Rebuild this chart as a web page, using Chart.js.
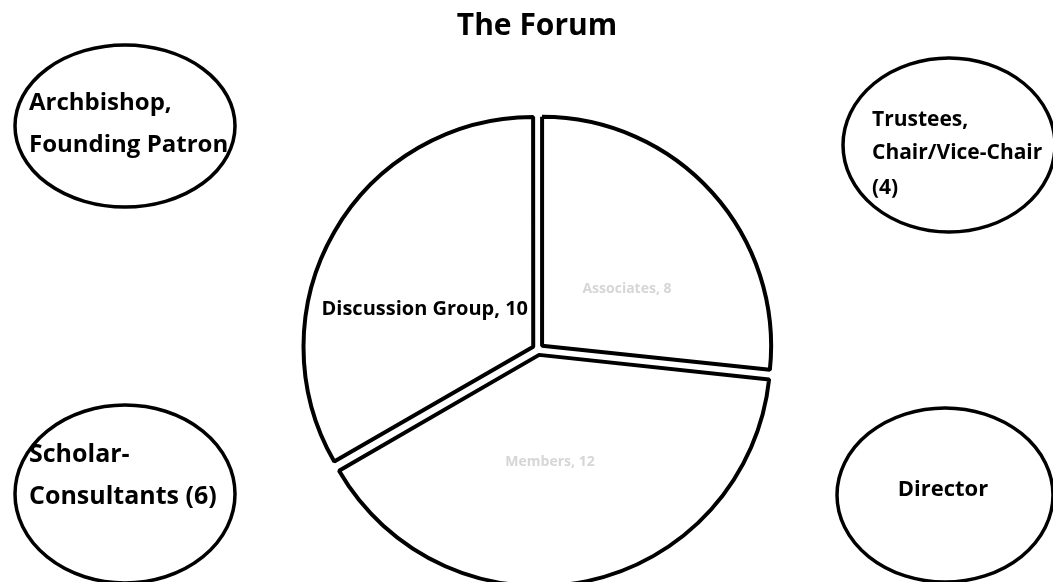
<!DOCTYPE html>
<html>
<head>
<meta charset="utf-8">
<script src="https://cdn.jsdelivr.net/npm/chart.js@4"></script>
<style>
  html, body { margin: 0; padding: 0; background: #fff; }
  #wrap { width: 1053px; height: 582px; overflow: hidden; }
</style>
</head>
<body>
<div id="wrap"><canvas id="grafik" width="1053" height="600"></canvas></div>
<script>
const kategoriler = ["Associates", "Members", "Discussion Group"];
const degerler = [8, 12, 10];
const baslik = "The Forum";

// side bubbles (text only, drawn around the pie)
const baloncuklar = [
  ["Archbishop,", "Founding Patron"],
  ["Trustees,", "Chair/Vice-Chair", "(4)"],
  ["Scholar-", "Consultants (6)"],
  ["Director"]
];

const FONT = "'Open Sans', sans-serif";

const dekorPlugin = {
  id: "dekor",
  afterDraw(chart) {
    const ctx = chart.ctx;
    ctx.save();

    // title
    ctx.fillStyle = "#000";
    ctx.font = "bold 30px " + FONT;
    ctx.textAlign = "center";
    ctx.textBaseline = "alphabetic";
    ctx.fillText(baslik, 537, 35);

    // ellipses
    const elipsler = [
      { cx: 125, cy: 126, rx: 110, ry: 81 },
      { cx: 949, cy: 145, rx: 106, ry: 87 },
      { cx: 125, cy: 494, rx: 110, ry: 89 },
      { cx: 945, cy: 495, rx: 108, ry: 87 }
    ];
    ctx.strokeStyle = "#000";
    ctx.lineWidth = 3.5;
    elipsler.forEach((e) => {
      ctx.beginPath();
      ctx.ellipse(e.cx, e.cy, e.rx, e.ry, 0, 0, Math.PI * 2);
      ctx.stroke();
    });

    // bubble texts
    const yerler = [
      { x: 29, y: [103, 145], hiza: "left", boyut: 24 },
      { x: 872, y: [120, 153, 188], hiza: "left", boyut: 21 },
      { x: 29, y: [455, 497], hiza: "left", boyut: 25 },
      { x: 943, y: [490], hiza: "center", boyut: 22 }
    ];
    ctx.textBaseline = "middle";
    baloncuklar.forEach((satirlar, i) => {
      const yer = yerler[i];
      ctx.font = "bold " + yer.boyut + "px " + FONT;
      ctx.textAlign = yer.hiza;
      satirlar.forEach((s, j) => {
        ctx.fillText(s, yer.x, yer.y[j]);
      });
    });

    // slice labels
    const meta = chart.getDatasetMeta(0);
    const kaymalar = [
      { dx: 89, dy: -60, hiza: "center", renk: "#d6d6d6", boyut: 14 },
      { dx: 12, dy: 113, hiza: "center", renk: "#d6d6d6", boyut: 14 },
      { dx: -10, dy: -40, hiza: "right", renk: "#000", boyut: 20 }
    ];
    meta.data.forEach((arc, i) => {
      const k = kaymalar[i];
      ctx.font = "bold " + k.boyut + "px " + FONT;
      ctx.fillStyle = k.renk;
      ctx.textAlign = k.hiza;
      ctx.fillText(kategoriler[i] + ", " + degerler[i], arc.x + k.dx, arc.y + k.dy);
    });

    ctx.restore();
  }
};

new Chart(document.getElementById("grafik"), {
  type: "pie",
  data: {
    labels: kategoriler,
    datasets: [
      {
        data: degerler,
        backgroundColor: "#ffffff",
        borderColor: "#000000",
        borderWidth: 4,
        offset: 22,
        radius: 229
      }
    ]
  },
  options: {
    responsive: false,
    animation: false,
    devicePixelRatio: 1,
    layout: {
      padding: { left: 302, right: 279, top: 114, bottom: 15 }
    },
    plugins: {
      legend: { display: false },
      title: { display: false },
      tooltip: { enabled: false }
    }
  },
  plugins: [dekorPlugin]
});
</script>
</body>
</html>
